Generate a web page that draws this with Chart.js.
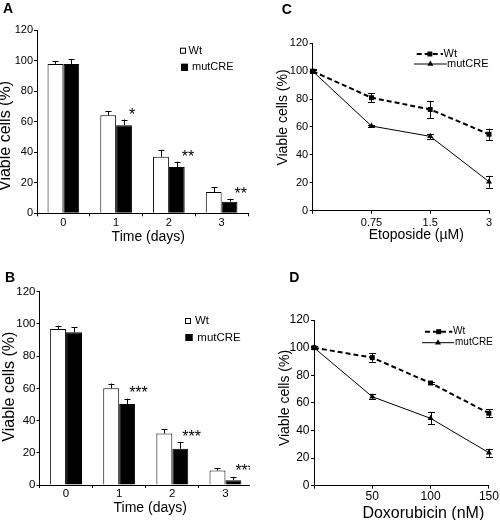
<!DOCTYPE html>
<html><head><meta charset="utf-8">
<script src="https://cdn.jsdelivr.net/npm/chart.js@4.4.1/dist/chart.umd.min.js"></script>
<style>
html,body{margin:0;padding:0;background:#fff;}
body{width:500px;height:520px;position:relative;overflow:hidden;}
.p{position:absolute;overflow:hidden;}
canvas{display:block;}
</style></head><body>
<div class="p" style="left:0;top:0;width:250px;height:260px"><canvas id="cA" width="250" height="260"></canvas></div>
<div class="p" style="left:0;top:260px;width:250px;height:260px"><canvas id="cB" width="254" height="260"></canvas></div>
<div class="p" style="left:250px;top:0;width:250px;height:260px"><canvas id="cC" width="250" height="260"></canvas></div>
<div class="p" style="left:250px;top:260px;width:250px;height:260px"><canvas id="cD" width="250" height="260"></canvas></div>
<script>
// ---------- data ----------
const seriesNames = ['Wt', 'mutCRE'];
const timeDays = ['0', '1', '2', '3'];
const yTicksMax = 120;
const yTickStep = 20;

// Panel A
const aWt = [97.8, 64.2, 37, 13.9];
const aWtErr = [1.7, 2.8, 4.6, 3.1];
const aMut = [97.8, 57.7, 30.3, 7.6];
const aMutErr = [3, 3.7, 3.5, 1.9];
const aStars = ['', '*', '**', '**'];

// Panel B
const bWt = [96.9, 60, 32, 9];
const bWtErr = [2, 3, 2.5, 1.5];
const bMut = [94.8, 50.3, 22.5, 3];
const bMutErr = [3.3, 3.3, 4, 2];
const bStars = ['', '***', '***', '***'];

// Panel C (Etoposide, µM)
const etoDoses = ['0', '0.75', '1.5', '3'];
const cWt = [100, 81, 72.6, 54.8];
const cWtErr = [1.5, 3.2, 6, 4];
const cMut = [100, 60.7, 53.3, 20.8];
const cMutErr = [1, 1, 1.8, 4.2];

// Panel D (Doxorubicin, nM)
const doxDoses = ['0', '50', '100', '150'];
const dWt = [100, 92.8, 74.4, 52.5];
const dWtErr = [1.2, 3, 1, 2.8];
const dMut = [100, 64.5, 48.8, 23.9];
const dMutErr = [1, 1.8, 4.3, 2.9];

// ---------- helpers ----------
const FF = "'Liberation Sans', Arial, Helvetica, sans-serif";

function errorBarPlugin() {
  return {
    id: 'errorBars',
    afterDatasetsDraw(chart) {
      const ctx = chart.ctx;
      ctx.save();
      ctx.strokeStyle = '#000';
      ctx.lineWidth = 1;
      chart.data.datasets.forEach((ds, i) => {
        if (!ds.errors) return;
        const meta = chart.getDatasetMeta(i);
        const ys = chart.scales[meta.yAxisID];
        const cap = ds.errCap || 3;
        meta.data.forEach((el, j) => {
          const v = ds.data[j], e = ds.errors[j];
          if (!e) return;
          const x = Math.round(el.x) + 0.5;
          const top = ys.getPixelForValue(v + e);
          const bot = ds.errUpOnly ? ys.getPixelForValue(v) : ys.getPixelForValue(v - e);
          ctx.beginPath();
          ctx.moveTo(x, bot); ctx.lineTo(x, top);
          ctx.moveTo(x - cap, Math.round(top) + 0.5); ctx.lineTo(x + cap, Math.round(top) + 0.5);
          if (!ds.errUpOnly) { ctx.moveTo(x - cap, Math.round(bot) + 0.5); ctx.lineTo(x + cap, Math.round(bot) + 0.5); }
          ctx.stroke();
        });
      });
      ctx.restore();
    }
  };
}

function starPlugin(cfg) {
  return {
    id: 'stars',
    afterDatasetsDraw(chart) {
      const ctx = chart.ctx;
      ctx.save();
      ctx.font = cfg.font;
      ctx.fillStyle = '#000';
      ctx.textAlign = 'left';
      ctx.textBaseline = 'alphabetic';
      chart.data.datasets.forEach((ds, i) => {
        if (!ds.stars) return;
        const meta = chart.getDatasetMeta(i);
        const ys = chart.scales[meta.yAxisID];
        meta.data.forEach((el, j) => {
          const s = ds.stars[j];
          if (!s) return;
          const x = el.x + el.width / 2 + cfg.dx;
          const y = ys.getPixelForValue(ds.data[j] + (ds.errors ? ds.errors[j] : 0)) + cfg.dy;
          ctx.fillText(s, x, y);
        });
      });
      ctx.restore();
    }
  };
}

function textPlugin(items) {
  return {
    id: 'texts',
    afterDraw(chart) {
      const ctx = chart.ctx;
      items.forEach(t => {
        ctx.save();
        ctx.font = t.font;
        ctx.fillStyle = '#000';
        ctx.textAlign = t.align || 'center';
        ctx.textBaseline = t.baseline || 'middle';
        ctx.translate(t.x, t.y);
        if (t.rot) ctx.rotate(t.rot);
        ctx.fillText(t.text, 0, 0);
        ctx.restore();
      });
    }
  };
}

function drawMarker(ctx, style, x, y, r) {
  ctx.beginPath();
  if (style === 'rect') {
    const s = Math.SQRT1_2 * r;
    ctx.rect(x - s, y - s, 2 * s, 2 * s);
  } else if (style === 'triangle') {
    ctx.moveTo(x, y - r);
    ctx.lineTo(x + r * 0.866, y + r / 2);
    ctx.lineTo(x - r * 0.866, y + r / 2);
    ctx.closePath();
  }
  ctx.fillStyle = '#000';
  ctx.fill();
}

function legendPlugin(kind, items, font) {
  return {
    id: 'customLegend',
    afterDraw(chart) {
      const ctx = chart.ctx;
      ctx.save();
      ctx.font = font;
      ctx.textAlign = 'left';
      ctx.textBaseline = 'middle';
      items.forEach(it => {
        const ds = chart.data.datasets[it.ds];
        if (kind === 'bar') {
          ctx.fillStyle = ds.backgroundColor;
          ctx.fillRect(it.x, it.y - it.size / 2, it.size, it.size);
          ctx.strokeStyle = '#000';
          ctx.lineWidth = 1;
          ctx.strokeRect(it.x + 0.5, it.y - it.size / 2 + 0.5, it.size - 1, it.size - 1);
        } else {
          ctx.strokeStyle = '#000';
          ctx.lineWidth = ds.borderWidth;
          ctx.setLineDash(ds.borderDash || []);
          ctx.beginPath();
          ctx.moveTo(it.x1, it.y); ctx.lineTo(it.x2, it.y);
          ctx.stroke();
          ctx.setLineDash([]);
          drawMarker(ctx, ds.pointStyle, (it.x1 + it.x2) / 2, it.y, ds.pointRadius);
        }
        ctx.fillStyle = '#000';
        ctx.fillText(ds.label, it.tx, it.y);
      });
      ctx.restore();
    }
  };
}

function axisCommon(g, tickFont, tickPad) {
  return {
    grid: { display: true, drawOnChartArea: false, drawTicks: true, tickLength: 3, color: '#000', lineWidth: 1 },
    border: { display: true, color: '#000', width: 1 },
    ticks: { color: '#000', font: { family: FF, size: tickFont }, padding: tickPad, maxRotation: 0, autoSkip: false }
  };
}

function makeChart(id, type, labels, datasets, g, plugins, xFirstHidden) {
  const xAx = axisCommon(g, g.xFont, g.xPad);
  xAx.afterFit = s => { s.height = g.xh; };
  if (type === 'bar') xAx.grid.offset = true;
  if (xFirstHidden) xAx.ticks.callback = function (v, i) { return i === 0 ? '' : this.getLabelForValue(v); };
  if (type === 'line') xAx.offset = false;
  const yAx = axisCommon(g, g.yFont, g.yPad);
  yAx.min = 0; yAx.max = yTicksMax;
  yAx.ticks.stepSize = yTickStep;
  yAx.afterFit = s => { s.width = g.yw; };
  return new Chart(document.getElementById(id), {
    type,
    data: { labels, datasets },
    options: {
      responsive: false,
      animation: false,
      devicePixelRatio: 1,
      events: [],
      layout: { padding: { top: g.top, right: g.right, left: 0, bottom: 0 } },
      plugins: { legend: { display: false }, tooltip: { enabled: false }, title: { display: false } },
      scales: { x: xAx, y: yAx },
      datasets: { bar: { barPercentage: 1, categoryPercentage: 0.6 } }
    },
    plugins
  });
}

function barSets(wt, wtErr, mut, mutErr, stars) {
  return [
    { label: seriesNames[0], data: wt, errors: wtErr, errUpOnly: true, errCap: 3,
      backgroundColor: '#ffffff', borderColor: '#000', borderWidth: 1 },
    { label: seriesNames[1], data: mut, errors: mutErr, errUpOnly: true, errCap: 3, stars,
      backgroundColor: '#000000', borderColor: '#000', borderWidth: 1 }
  ];
}

function lineSets(wt, wtErr, mut, mutErr) {
  return [
    { label: seriesNames[0], data: wt, errors: wtErr, errCap: 3.5, clip: false,
      borderColor: '#000', borderWidth: 2, borderDash: [5, 3], tension: 0, fill: false,
      pointStyle: 'rect', pointRadius: 3.5, pointBackgroundColor: '#000', pointBorderColor: '#000', pointBorderWidth: 0 },
    { label: seriesNames[1], data: mut, errors: mutErr, errCap: 3.5, clip: false,
      borderColor: '#000', borderWidth: 1, tension: 0, fill: false,
      pointStyle: 'triangle', pointRadius: 3.5, pointBackgroundColor: '#000', pointBorderColor: '#000', pointBorderWidth: 0 }
  ];
}

const YT = 'Viable cells (%)';
const ROT = -Math.PI / 2;

// Panel A
makeChart('cA', 'bar', timeDays, barSets(aWt, aWtErr, aMut, aMutErr, aStars),
  { top: 30, right: 2, yw: 37, xh: 46.7, xFont: 11, yFont: 11, xPad: 0.5, yPad: 1 },
  [errorBarPlugin(), starPlugin({ font: '16px ' + FF, dx: -3, dy: 0.5 }),
   legendPlugin('bar', [{ ds: 0, x: 180, y: 50.7, size: 6, tx: 188.5 }, { ds: 1, x: 181, y: 67.3, size: 7, tx: 192 }], '11px ' + FF),
   textPlugin([
     { text: 'A', x: 3, y: 13.3, font: 'bold 14px ' + FF, align: 'left', baseline: 'alphabetic' },
     { text: YT, x: 6, y: 136, rot: ROT, font: '16px ' + FF },
     { text: 'Time (days)', x: 148.3, y: 236.7, font: '14px ' + FF }
   ])]);

// Panel B
makeChart('cB', 'bar', timeDays, barSets(bWt, bWtErr, bMut, bMutErr, bStars),
  { top: 31.7, right: 2, yw: 39.5, xh: 35, xFont: 11.5, yFont: 11.5, xPad: -1.5, yPad: 1 },
  [errorBarPlugin(), starPlugin({ font: '16px ' + FF, dx: -6, dy: -0.8 }),
   legendPlugin('bar', [{ ds: 0, x: 185, y: 61, size: 6, tx: 195 }, { ds: 1, x: 185.5, y: 77.5, size: 7, tx: 197.3 }], '11.5px ' + FF),
   textPlugin([
     { text: 'B', x: 5, y: 21.7, font: 'bold 14px ' + FF, align: 'left', baseline: 'alphabetic' },
     { text: YT, x: 10, y: 126.7, rot: ROT, font: '16px ' + FF },
     { text: 'Time (days)', x: 150.2, y: 248.3, font: '14px ' + FF }
   ])]);

// Panel C
makeChart('cC', 'line', etoDoses, lineSets(cWt, cWtErr, cMut, cMutErr),
  { top: 43.3, right: 11, yw: 62.7, xh: 49.3, xFont: 11, yFont: 11, xPad: 2.4, yPad: 1.5 },
  [errorBarPlugin(),
   legendPlugin('line', [{ ds: 0, x1: 166.7, x2: 193, y: 54, tx: 193.5 }, { ds: 1, x1: 164, x2: 196.7, y: 64, tx: 197 }], '11px ' + FF),
   textPlugin([
     { text: 'C', x: 31.7, y: 14, font: 'bold 14px ' + FF, align: 'left', baseline: 'alphabetic' },
     { text: YT, x: 33, y: 117.5, rot: ROT, font: '14px ' + FF },
     { text: 'Etoposide (\u00B5M)', x: 166.3, y: 235, font: '14px ' + FF }
   ])], true);

// Panel D
makeChart('cD', 'line', doxDoses, lineSets(dWt, dWtErr, dMut, dMutErr),
  { top: 60.1, right: 10.7, yw: 64, xh: 34.3, xFont: 12, yFont: 12, xPad: 1.1, yPad: 1.5 },
  [errorBarPlugin(),
   legendPlugin('line', [{ ds: 0, x1: 175, x2: 202.3, y: 71.7, tx: 203 }, { ds: 1, x1: 172, x2: 204, y: 82.7, tx: 205 }], '10px ' + FF),
   textPlugin([
     { text: 'D', x: 39.3, y: 22.3, font: 'bold 14px ' + FF, align: 'left', baseline: 'alphabetic' },
     { text: YT, x: 35, y: 138, rot: ROT, font: '14px ' + FF },
     { text: 'Doxorubicin (nM)', x: 173.3, y: 253.3, font: '16px ' + FF }
   ])], true);
</script>
</body></html>
